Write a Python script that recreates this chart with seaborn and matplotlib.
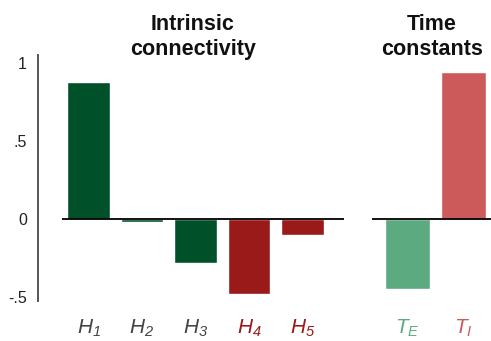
import matplotlib
matplotlib.use("Agg")
import matplotlib.pyplot as plt
import seaborn as sns

# Parameter estimates
conn_labels = ["H1", "H2", "H3", "H4", "H5"]
conn_values = [0.878, -0.02, -0.28, -0.48, -0.10]
conn_colors = ["#00512a", "#00512a", "#00512a", "#9a1919", "#9a1919"]
conn_text_colors = ["#444444", "#444444", "#444444", "#9a1919", "#9a1919"]
conn_tex = [r"$H_1$", r"$H_2$", r"$H_3$", r"$H_4$", r"$H_5$"]

time_labels = ["TE", "TI"]
time_values = [-0.45, 0.94]
time_colors = ["#5cab80", "#cd5a5a"]
time_tex = [r"$T_E$", r"$T_I$"]

y_ticks = [-0.5, 0, 0.5, 1]
y_tick_labels = ["-.5", "0", ".5", "1"]

sns.set_theme(style="white")
plt.rcParams["font.family"] = ["Liberation Sans", "DejaVu Sans"]
plt.rcParams["mathtext.fontset"] = "custom"
plt.rcParams["mathtext.it"] = "Liberation Sans:italic"
plt.rcParams["mathtext.rm"] = "Liberation Sans:italic"

W, H = 491, 341
fig = plt.figure(figsize=(W / 100, H / 100), dpi=100)

ylo, yhi = -0.526, 1.051
ax_bottom = (H - 301) / H
ax_height = 246 / H

ax1 = fig.add_axes([38 / W, ax_bottom, 306 / W, ax_height])
ax2 = fig.add_axes([372 / W, ax_bottom, 119 / W, ax_height])

sns.barplot(x=conn_labels, y=conn_values, hue=conn_labels, palette=conn_colors,
            legend=False, width=0.8, saturation=1, ax=ax1)
sns.barplot(x=time_labels, y=time_values, hue=time_labels, palette=time_colors,
            legend=False, width=0.8, saturation=1, ax=ax2)

ax1.set_xlim(-0.944, 4.776)
ax2.set_xlim(-0.634, 1.49)
for ax in (ax1, ax2):
    ax.set_ylim(ylo, yhi)
    ax.set_xlabel("")
    ax.set_ylabel("")
    for s in ax.spines.values():
        s.set_visible(False)

ax1.hlines(0, -0.5, 4.776, color="black", lw=1.3, zorder=3)
ax2.hlines(0, -0.634, 1.49, color="black", lw=1.3, zorder=3)

ax1.spines["left"].set_visible(True)
ax1.spines["left"].set_color("#555555")
ax1.spines["left"].set_linewidth(1.4)
ax1.set_yticks(y_ticks)
ax1.set_yticklabels(y_tick_labels)
ax1.tick_params(axis="y", length=0, pad=8, labelsize=11.5, labelcolor="#222222")
ax2.set_yticks([])

ax1.set_xticks(range(len(conn_labels)))
ax1.set_xticklabels(conn_tex)
for t, c in zip(ax1.get_xticklabels(), conn_text_colors):
    t.set_color(c)
ax2.set_xticks(range(len(time_labels)))
ax2.set_xticklabels(time_tex)
for t, c in zip(ax2.get_xticklabels(), time_colors):
    t.set_color(c)
for ax in (ax1, ax2):
    ax.tick_params(axis="x", length=0, pad=12, labelsize=15)

fig.text(193 / W, 1 - 37 / H, "Intrinsic\nconnectivity", ha="center", va="center",
         fontsize=15.5, fontweight="bold", color="#111111", linespacing=1.3)
fig.text(432 / W, 1 - 37 / H, "Time\nconstants", ha="center", va="center",
         fontsize=15.5, fontweight="bold", color="#111111", linespacing=1.3)

fig.savefig("out.png", dpi=100)
